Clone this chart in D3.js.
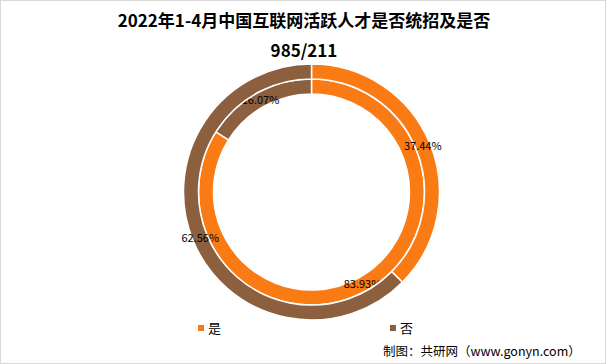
<!DOCTYPE html>
<html>
<head>
<meta charset="utf-8">
<script src="https://cdn.jsdelivr.net/npm/d3@7"></script>
<style>
  html, body { margin: 0; padding: 0; background: #fff; }
  #chart { width: 606px; height: 364px; }
</style>
</head>
<body>
<div id="chart"></div>
<script>
// ── Donut: 2022年1-4月 互联网活跃人才 是否统招 (inner) / 是否985/211 (outer) ──
const categories  = ["是", "否"];
const innerValues = [83.93, 16.07];   // 是否统招
const outerValues = [37.44, 62.56];   // 是否985/211
const titleLines  = ["2022年1-4月中国互联网活跃人才是否统招及是否", "985/211"];
const sourceText  = "制图：共研网（www.gonyn.com）";

const width = 606, height = 364;
const cx = 311.5, cy = 192;
const font = "'Noto Sans CJK SC', 'Noto Sans', sans-serif";

const color = d3.scaleOrdinal().domain(categories).range(["#FA7A14", "#8C5F3E"]);

const svg = d3.select("#chart").append("svg")
    .attr("width", width).attr("height", height)
    .attr("viewBox", `0 0 ${width} ${height}`);

// outer frame
svg.append("rect").attr("x", 0.5).attr("y", 0.5)
    .attr("width", width - 1).attr("height", height - 1)
    .attr("fill", "#fff").attr("stroke", "#d9d9d9");

// title
svg.append("g").selectAll("text")
    .data(titleLines).join("text")
    .attr("x", width / 2 + 1)
    .attr("y", (d, i) => 27 + i * 30)
    .attr("text-anchor", "middle")
    .style("font-family", font).style("font-size", "17px").style("font-weight", "bold")
    .style("fill", "#000")
    .text(d => d);

const pie = d3.pie().sort(null).value(d => d.value);
const g = svg.append("g").attr("transform", `translate(${cx},${cy})`);

const rings = [
    { values: innerValues, r0: 98,  r1: 113 },
    { values: outerValues, r0: 113, r1: 128 }
];

rings.forEach(ring => {
    const data = pie(categories.map((c, i) => ({ cat: c, value: ring.values[i] })));
    const arc = d3.arc().innerRadius(ring.r0).outerRadius(ring.r1);
    const labelArc = d3.arc().innerRadius((ring.r0 + ring.r1) / 2).outerRadius((ring.r0 + ring.r1) / 2);

    g.append("g").selectAll("path")
        .data(data).join("path")
        .attr("d", arc)
        .attr("fill", d => color(d.data.cat))
        .attr("stroke", "#fff").attr("stroke-width", 1.5);

    g.append("g").selectAll("text")
        .data(data).join("text")
        .attr("transform", d => `translate(${labelArc.centroid(d)})`)
        .attr("text-anchor", "middle").attr("dy", "0.35em")
        .style("font-family", font).style("font-size", "11px").style("fill", "#000")
        .text(d => d.data.value.toFixed(2) + "%");
});

// legend
const legend = svg.append("g").selectAll("g")
    .data(categories).join("g")
    .attr("transform", (d, i) => `translate(${198 + i * 192},328)`);
legend.append("rect").attr("x", 0).attr("y", -3).attr("width", 6).attr("height", 6)
    .attr("fill", d => color(d));
legend.append("text").attr("x", 10).attr("dy", "0.35em")
    .style("font-family", font).style("font-size", "13px").style("fill", "#000")
    .text(d => d);

// source
svg.append("text").attr("x", 383).attr("y", 352).attr("dy", "0.35em")
    .style("font-family", font).style("font-size", "12.5px").style("fill", "#000")
    .text(sourceText);
</script>
</body>
</html>
